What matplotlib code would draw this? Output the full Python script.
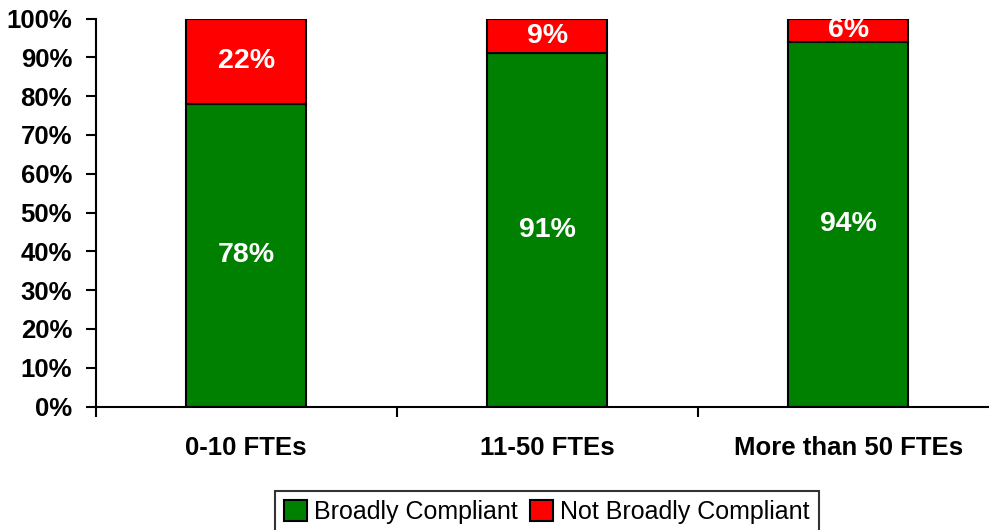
import matplotlib.pyplot as plt
import numpy as np

plt.rcParams['font.family'] = ['Liberation Sans', 'DejaVu Sans']

categories = ['0-10 FTEs', '11-50 FTEs', 'More than 50 FTEs']
compliant = [78, 91, 94]
not_compliant = [22, 9, 6]
yticks = np.arange(0, 101, 10)

fig = plt.figure(figsize=(9.89, 5.30), dpi=100)
ax = fig.add_axes([0.0968, 0.233, 0.913, 0.732])

x = np.arange(len(categories))
w = 0.40
b1 = ax.bar(x, compliant, w, color='#008000', edgecolor='black', linewidth=1.5,
            label='Broadly Compliant')
b2 = ax.bar(x, not_compliant, w, bottom=compliant, color='#ff0000',
            edgecolor='black', linewidth=1.5, label='Not Broadly Compliant')

# etiquetas blancas centradas en cada segmento
for xi, c, n in zip(x, compliant, not_compliant):
    ax.text(xi, c / 2, f'{c}%', ha='center', va='center', color='white',
            fontsize=20.5, fontweight='bold')
    ax.text(xi, c + n / 2, f'{n}%', ha='center', va='center', color='white',
            fontsize=20.5, fontweight='bold')

ax.set_xlim(-0.5, len(categories) - 0.5)
ax.set_ylim(0, 100)
ax.set_yticks(yticks)
ax.set_yticklabels([f'{v}%' for v in yticks], fontsize=18.5, fontweight='bold')
ax.set_xticks(x)
ax.set_xticklabels(categories, fontsize=18.5, fontweight='bold')
ax.tick_params(axis='x', length=0, pad=21)
ax.set_xticks(np.arange(len(categories) + 1) - 0.5, minor=True)
ax.tick_params(axis='x', which='minor', length=7, width=1.5, direction='out')
ax.tick_params(axis='y', length=7, width=1.5, direction='out', pad=10)

for s in ['top', 'right']:
    ax.spines[s].set_visible(False)
for s in ['left', 'bottom']:
    ax.spines[s].set_linewidth(1.5)

leg = fig.legend(handles=[b1, b2], loc='upper center', bbox_to_anchor=(0.553, 0.073),
                 ncol=2, fontsize=18, frameon=True, fancybox=False,
                 handlelength=0.9, handleheight=0.9, handletextpad=0.3,
                 columnspacing=0.5, borderpad=0.35, borderaxespad=0)
leg.get_frame().set_edgecolor('black')
leg.get_frame().set_linewidth(1.5)

fig.savefig('out.png', dpi=100)
